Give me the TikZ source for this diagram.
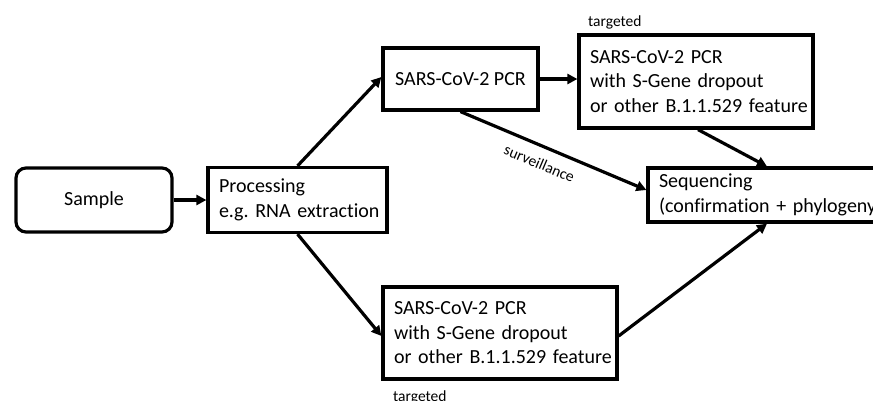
\documentclass[tikz,border=0pt]{standalone}
\usepackage{fontspec}
\setmainfont{Carlito}[Ligatures=NoCommon]
\usetikzlibrary{arrows.meta,calc}
\frenchspacing
\begin{document}
\begin{tikzpicture}[x=1pt,y=-1pt,
  box/.style={draw,line width=3.2pt,inner xsep=11pt,inner ysep=0pt,
    font={\fontsize{20}{24.5}\selectfont\hyphenpenalty=10000\relax},align=left},
  conn/.style={line width=3.2pt,-{Triangle[length=10pt,width=10pt]}},
  lab/.style={font=\fontsize{15.5}{17}\selectfont,inner sep=0pt}]
\clip (0,0) rectangle (873,400);
\fill[white] (0,0) rectangle (873,400);
\node[box,rounded corners=10pt,align=center,minimum width=156pt,minimum height=64pt] (sample) at (94,200) {Sample};
\node[box,text width=157pt,minimum height=65pt] (proc) at (297.5,200) {\mbox{Processing}\\\mbox{e.g. RNA extraction}};
\node[box,align=center,minimum width=155pt,minimum height=62pt] (pcr) at (460.5,79) {SARS-CoV-2 PCR};
\node[box,text width=212pt,minimum height=93pt] (top) at (696,81.5) {\mbox{SARS-CoV-2 PCR}\\\mbox{with S-Gene dropout}\\\mbox{or other B.1.1.529 feature}};
\node[box,text width=216pt,minimum height=54pt] (seq) at (767,195) {\mbox{Sequencing}\\\mbox{(confirmation + phylogeny)}};
\node[box,text width=212pt,minimum height=92pt] (bot) at (500,333) {\mbox{SARS-CoV-2 PCR}\\\mbox{with S-Gene dropout}\\\mbox{or other B.1.1.529 feature}};
\node[lab,anchor=west] (tl1) at (588,22) {targeted};
\node[lab,anchor=west] (tl2) at (393,397) {targeted};
\draw[conn] (sample.east) -- (proc.west);
\draw[conn] (proc.north) -- ([yshift=2pt]pcr.west);
\draw[conn] (proc.south) -- ([yshift=-3pt]bot.west);
\draw[conn] (pcr.east) -- (pcr.east -| top.west);
\draw[conn] (pcr.south) -- node[lab,sloped,below=10pt,pos=0.46] (surv) {surveillance} ([yshift=5pt]seq.west);
\draw[conn] ([xshift=2pt]top.south) -- (seq.north);
\draw[conn] ([yshift=-3pt]bot.east) -- (seq.south);
\end{tikzpicture}
\end{document}
